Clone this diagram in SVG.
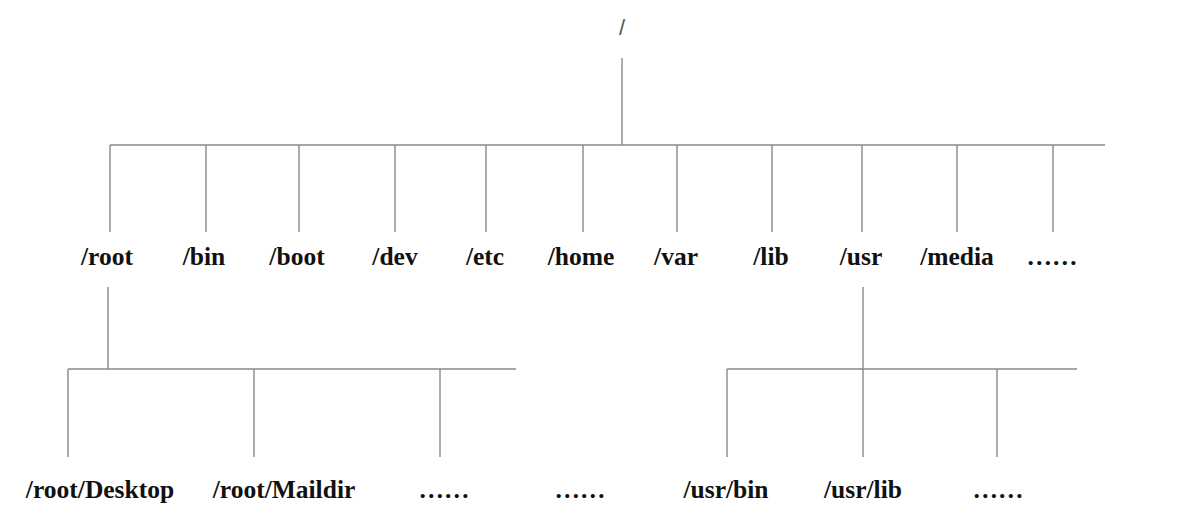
<svg xmlns="http://www.w3.org/2000/svg" width="1186" height="514" viewBox="0 0 1186 514">
<style>
.c{stroke:#8a8a8a;stroke-width:1.4;fill:none}
.t{font-family:"Liberation Serif","Times New Roman",serif;font-weight:bold;font-size:25.5px;fill:#111;text-anchor:middle}
.r{font-family:"Liberation Sans",Arial,sans-serif;font-size:22px;fill:#555;text-anchor:middle}
</style>
<rect width="1186" height="514" fill="#fff"/>
<g id="connectors">
<path class="c" d="M622 58V145M110 145H1105M110 145V232M206 145V232M299 145V232M395 145V232M486 145V232M583 145V232M677 145V232M772 145V232M862 145V232M957 145V232M1053 145V232"/>
<path class="c" d="M108 287V369M68 369H516M68 369V457M254 369V457M440 369V457"/>
<path class="c" d="M863 287V369M727 369H1077M727 369V457M863 369V457M997 369V457"/>
</g>
<g id="n-slash"><text class="r" x="622" y="35">/</text></g>
<g id="n-root"><text class="t" x="107" y="265">/root</text></g>
<g id="n-bin"><text class="t" x="204" y="265">/bin</text></g>
<g id="n-boot"><text class="t" x="297" y="265">/boot</text></g>
<g id="n-dev"><text class="t" x="395" y="265">/dev</text></g>
<g id="n-etc"><text class="t" x="485" y="265">/etc</text></g>
<g id="n-home"><text class="t" x="581" y="265">/home</text></g>
<g id="n-var"><text class="t" x="676" y="265">/var</text></g>
<g id="n-lib"><text class="t" x="771" y="265">/lib</text></g>
<g id="n-usr"><text class="t" x="861" y="265">/usr</text></g>
<g id="n-media"><text class="t" x="957" y="265">/media</text></g>
<g id="n-more1"><text class="t" x="1052" y="265">……</text></g>
<g id="n-root-desktop"><text class="t" x="100" y="498">/root/Desktop</text></g>
<g id="n-root-maildir"><text class="t" x="284" y="498">/root/Maildir</text></g>
<g id="n-more2"><text class="t" x="444" y="498">……</text></g>
<g id="n-more3"><text class="t" x="580" y="498">……</text></g>
<g id="n-usr-bin"><text class="t" x="726" y="498">/usr/bin</text></g>
<g id="n-usr-lib"><text class="t" x="863" y="498">/usr/lib</text></g>
<g id="n-more4"><text class="t" x="998" y="498">……</text></g>
</svg>
